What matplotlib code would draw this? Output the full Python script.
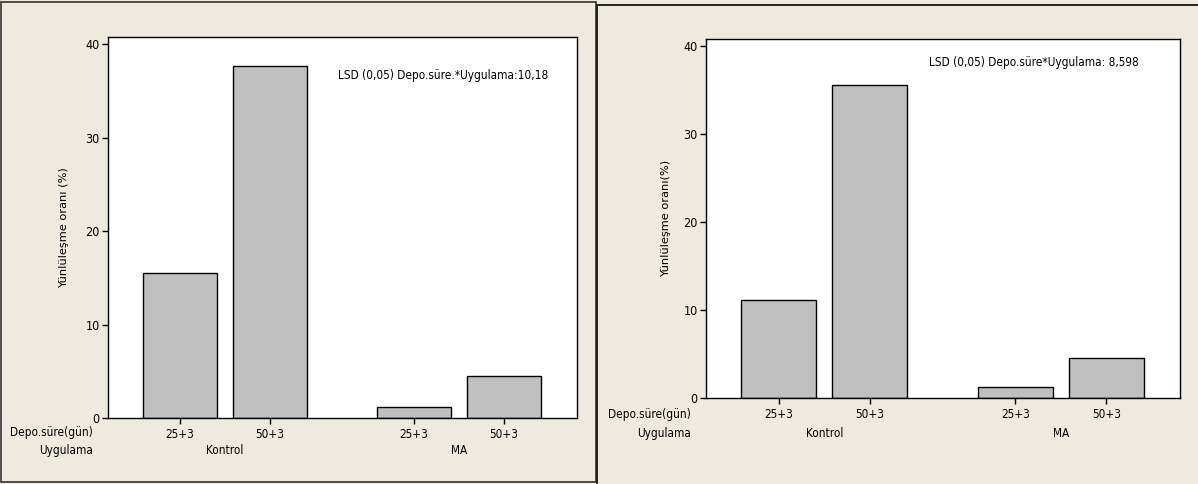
import numpy as np
import matplotlib.pyplot as plt
from matplotlib.patches import Rectangle
from matplotlib.transforms import blended_transform_factory

# Veriler
depo = ['25+3', '50+3', '25+3', '50+3']
uygulama = ['Kontrol', 'MA']
sol_degerler = [15.5, 37.7, 1.2, 4.5]
sag_degerler = [11.1, 35.6, 1.2, 4.5]
lsd_sol = 'LSD (0,05) Depo.süre.*Uygulama:10,18'
lsd_sag = 'LSD (0,05) Depo.süre*Uygulama: 8,598'
ylabel_sol = 'Yünlüleşme oranı (%)'
ylabel_sag = 'Yünlüleşme oranı(%)'

bg = '#EEEAE0'
bar_col = '#C0C0C0'
font = dict(family='DejaVu Sans', stretch='condensed')

fig = plt.figure(figsize=(11.98, 4.84), dpi=100, facecolor=bg)

# panel cerceveleri
fig.patches.append(Rectangle((1 / 1198, 2 / 484), 595 / 1198, 480 / 484, transform=fig.transFigure,
                             fill=False, edgecolor='#333333', linewidth=1.2))
fig.patches.append(Rectangle((597 / 1198, -0.01), 0.6, 1 - 5 / 484 + 0.01, transform=fig.transFigure,
                             fill=False, edgecolor='#222222', linewidth=1.4))

pos = np.array([0, 1, 2.6, 3.6])


def panel(rect, degerler, lsd, lsd_xy, ylabel, ylab_x, dy1, dy2):
    ax = fig.add_axes(rect)
    ax.bar(pos, degerler, width=0.82, color=bar_col, edgecolor='black', linewidth=1.0)
    ax.set_xlim(-0.8, 4.41)
    ax.set_ylim(0, 40.8)
    ax.set_yticks([0, 10, 20, 30, 40])
    ax.set_xticks(pos)
    ax.set_xticklabels(depo, fontsize=8.5, **font)
    for lab in ax.get_yticklabels():
        lab.set_fontsize(9)
        lab.set_stretch('condensed')
    ax.tick_params(direction='out', length=4, width=1, pad=2, colors='black')
    ax.tick_params(axis='x', pad=3)
    for s in ax.spines.values():
        s.set_linewidth(1.0)
    ax.set_facecolor('white')
    ax.text(lsd_xy[0], lsd_xy[1], lsd, transform=ax.transAxes, fontsize=8.5, va='center', **font)
    ax.set_ylabel(ylabel, fontsize=8.2)
    ax.yaxis.set_label_coords(ylab_x, 0.5)

    # alt satirlar: depolama suresi ve uygulama
    tr = blended_transform_factory(ax.transData, ax.transAxes)
    ax.text(-0.032, dy1, 'Depo.süre(gün)', transform=ax.transAxes, ha='right', va='center', fontsize=8.5, **font)
    ax.text(-0.032, dy2, 'Uygulama', transform=ax.transAxes, ha='right', va='center', fontsize=8.5, **font)
    ax.text((pos[0] + pos[1]) / 2, dy2, uygulama[0], transform=tr, ha='center', va='center', fontsize=8.5, **font)
    ax.text((pos[2] + pos[3]) / 2, dy2, uygulama[1], transform=tr, ha='center', va='center', fontsize=8.5, **font)
    return ax


ax1 = panel([108 / 1198, 66 / 484, 469 / 1198, 381 / 484], sol_degerler, lsd_sol, (0.49, 0.9),
            ylabel_sol, -0.084, -0.038, -0.085)
ax2 = panel([706 / 1198, 86 / 484, 474 / 1198, 359 / 484], sag_degerler, lsd_sag, (0.47, 0.935),
            ylabel_sag, -0.0745, -0.047, -0.1)

fig.savefig('out.png', dpi=100, facecolor=bg)
